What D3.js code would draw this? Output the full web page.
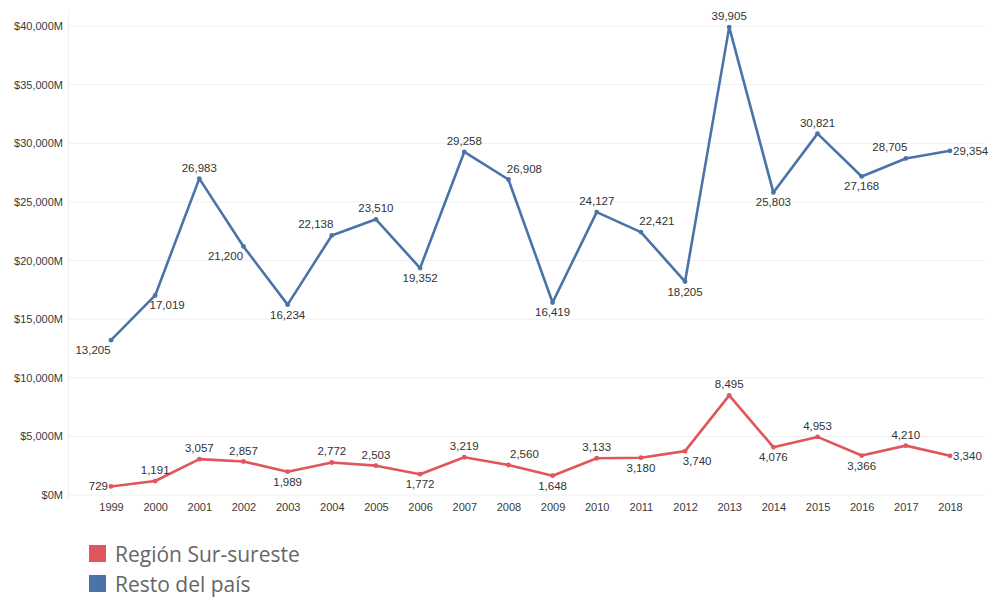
<!DOCTYPE html>
<html>
<head>
<meta charset="utf-8">
<script src="https://cdn.jsdelivr.net/npm/d3@7"></script>
<style>
  body { margin: 0; background: #fff; }
  svg { display: block; }
</style>
</head>
<body>
<svg id="chart"></svg>
<script>
var years = ["1999","2000","2001","2002","2003","2004","2005","2006","2007","2008",
             "2009","2010","2011","2012","2013","2014","2015","2016","2017","2018"]
var resto = [13205,17019,26983,21200,16234,22138,23510,19352,29258,26908,
             16419,24127,22421,18205,39905,25803,30821,27168,28705,29354]
var surSureste = [729,1191,3057,2857,1989,2772,2503,1772,3219,2560,
                  1648,3133,3180,3740,8495,4076,4953,3366,4210,3340]
var yTicks = [0,5000,10000,15000,20000,25000,30000,35000,40000]
var legendNames = ["Región Sur-sureste", "Resto del país"]

// where each value label sits relative to its point (layout only)
var restoLabelPos = ["bl","br","t","bl","b","tl","t","b","t","tr",
                     "b","t","tr","b","t","b","t","b","tl","r"]
var surLabelPos = ["l","t","t","t","b","t","t","b","t","tr",
                   "b","t","b","br","t","b","t","b","t","r"]

var width = 990,
    height = 600
var svg = d3.select("#chart").attr("width", width).attr("height", height)

var x = d3.scalePoint().domain(years).range([111, 950])
var y = d3.scaleLinear().domain([0, 40000]).range([495, 26])

var fmt = d3.format(",")

// grid
svg.append("g")
    .selectAll("line")
    .data(yTicks)
    .enter().append("line")
    .attr("x1", 69)
    .attr("x2", 985)
    .attr("y1", function (d) { return y(d) })
    .attr("y2", function (d) { return y(d) })
    .attr("stroke", "#f0f0f0")
    .attr("stroke-width", 1)

svg.append("line")
    .attr("x1", 68.5).attr("x2", 68.5)
    .attr("y1", 10).attr("y2", 500)
    .attr("stroke", "#f0f0f0")

// y axis
var yAxis = svg.append("g")
    .attr("transform", "translate(63,0)")
    .call(d3.axisLeft(y).tickValues(yTicks).tickSize(0).tickPadding(0)
        .tickFormat(function (d) { return "$" + fmt(d) + "M" }))
yAxis.select(".domain").remove()
yAxis.selectAll("text")
    .attr("font-family", "Arial, 'Liberation Sans', sans-serif")
    .attr("font-size", 11)
    .attr("fill", "#3a3a3a")
    .attr("dy", "0.32em")

// x axis
var xAxis = svg.append("g")
    .attr("transform", "translate(0,503)")
    .call(d3.axisBottom(x).tickSize(0).tickPadding(0))
xAxis.select(".domain").remove()
xAxis.selectAll("text")
    .attr("font-family", "Arial, 'Liberation Sans', sans-serif")
    .attr("font-size", 11)
    .attr("fill", "#3a3a3a")
    .attr("dy", "0.71em")

var series = [
    { name: legendNames[1], values: resto, color: "#4a74a8", pos: restoLabelPos },
    { name: legendNames[0], values: surSureste, color: "#df565b", pos: surLabelPos }
]

var line = d3.line()
    .x(function (d, i) { return x(years[i]) })
    .y(function (d) { return y(d) })

series.forEach(function (s) {
    svg.append("path")
        .datum(s.values)
        .attr("d", line)
        .attr("fill", "none")
        .attr("stroke", s.color)
        .attr("stroke-width", 2.6)
        .attr("stroke-linejoin", "round")

    svg.append("g")
        .selectAll("circle")
        .data(s.values)
        .enter().append("circle")
        .attr("cx", function (d, i) { return x(years[i]) })
        .attr("cy", function (d) { return y(d) })
        .attr("r", 2.4)
        .attr("fill", s.color)

    svg.append("g")
        .selectAll("text")
        .data(s.values)
        .enter().append("text")
        .attr("font-family", "Arial, 'Liberation Sans', sans-serif")
        .attr("font-size", 11.5)
        .attr("fill", "#333")
        .attr("text-anchor", function (d, i) {
            var p = s.pos[i]
            if (p == "l") return "end"
            if (p == "r") return "start"
            return "middle"
        })
        .attr("x", function (d, i) {
            var p = s.pos[i], cx = x(years[i])
            if (p == "l") return cx - 3
            if (p == "r") return cx + 3
            if (p == "bl") return cx - 18
            if (p == "br") return cx + 12
            if (p == "tl") return cx - 16
            if (p == "tr") return cx + 16
            return cx
        })
        .attr("y", function (d, i) {
            var p = s.pos[i], cy = y(d)
            if (p == "t" || p == "tl" || p == "tr") return cy - 7
            if (p == "b" || p == "bl" || p == "br") return cy + 14
            return cy + 4
        })
        .text(function (d) { return fmt(d) })
})

// legend
var legend = svg.append("g")
    .selectAll("g")
    .data([{ name: legendNames[0], color: "#df565b" }, { name: legendNames[1], color: "#4a74a8" }])
    .enter().append("g")
    .attr("transform", function (d, i) { return "translate(89," + (545 + i * 30) + ")" })
legend.append("rect")
    .attr("width", 17).attr("height", 17)
    .attr("fill", function (d) { return d.color })
legend.append("text")
    .attr("x", 26).attr("y", 17)
    .attr("font-family", "'Open Sans', 'Noto Sans', sans-serif")
    .attr("font-size", 21)
    .attr("fill", "#666")
    .text(function (d) { return d.name })
</script>
</body>
</html>
